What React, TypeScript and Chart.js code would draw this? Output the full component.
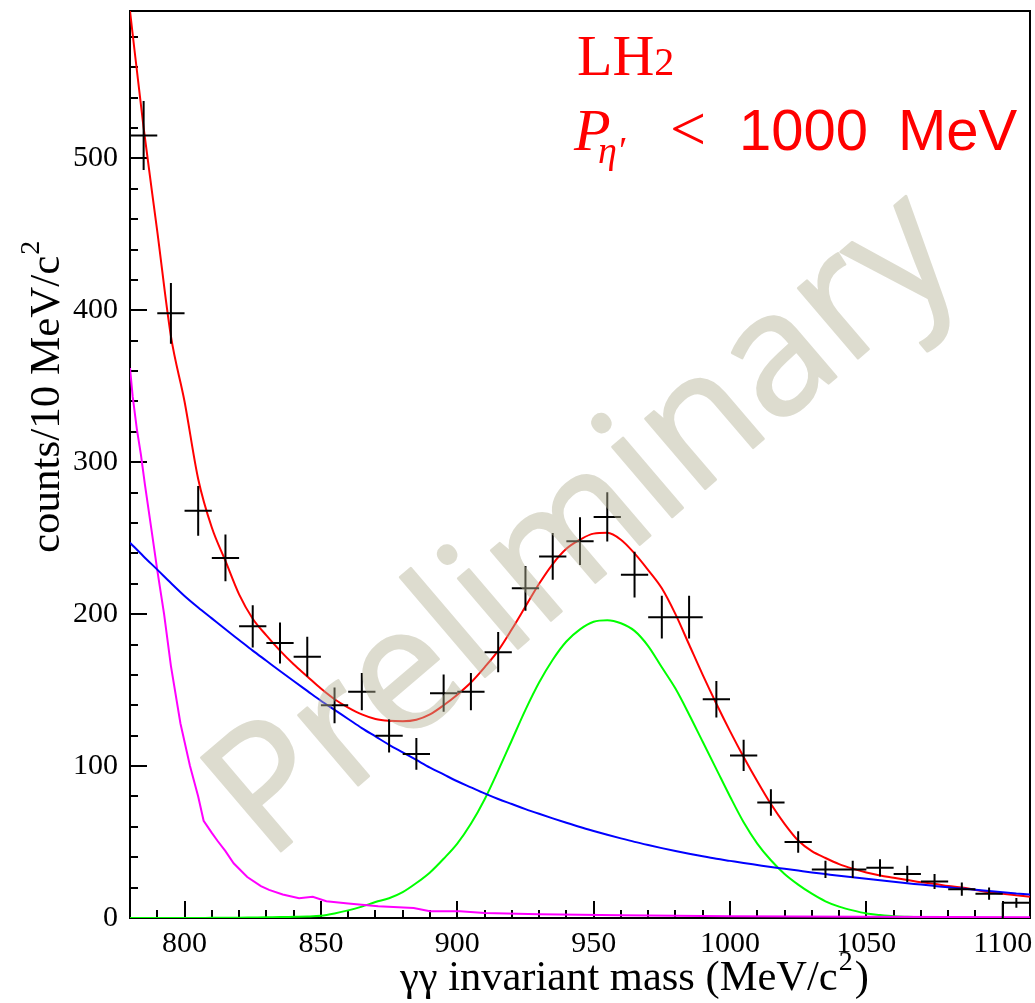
import React, { useEffect, useRef } from "react";
import { Chart, registerables } from "chart.js";

Chart.register(...registerables);

// ---- Data ----
const binCenters = [785, 795, 805, 815, 825, 835, 845, 855, 865, 875, 885, 895, 905, 915, 925, 935, 945, 955, 965, 975, 985, 995, 1005, 1015, 1025, 1035, 1045, 1055, 1065, 1075, 1085, 1095, 1105];
const counts = [515, 398, 268, 237, 192, 181, 172, 140, 149, 120, 108, 148, 149, 175, 217, 238, 248, 264, 226, 198, 198, 144, 107, 76, 50, 32, 32, 33, 29, 24, 19, 16, 10];
const countErrors = [22.7, 20, 16.4, 15.4, 13.9, 13.5, 13.1, 11.8, 12.2, 11, 10.4, 12.2, 12.2, 13.2, 14.7, 15.4, 15.7, 16.2, 15, 14.1, 14.1, 12, 10.3, 8.7, 7.1, 5.7, 5.7, 5.7, 5.4, 4.9, 4.4, 4, 3.2];
const binHalfWidth = 5;

const curveMass = [780, 785, 790, 795, 800, 805, 810, 815, 820, 825, 830, 835, 840, 845, 850, 855, 860, 865, 870, 875, 880, 885, 890, 895, 900, 905, 910, 915, 920, 925, 930, 935, 940, 945, 950, 955, 960, 965, 970, 975, 980, 985, 990, 995, 1000, 1005, 1010, 1015, 1020, 1025, 1030, 1035, 1040, 1045, 1050, 1055, 1060, 1065, 1070, 1075, 1080, 1085, 1090, 1095, 1100, 1105, 1110];
const totalFit = [597, 520, 452, 383, 340, 289, 257, 235, 213, 197, 186, 176, 167, 159, 151, 144, 138.5, 134, 131, 129.8, 129.5, 130.5, 134, 140, 147, 155, 165, 176, 190, 205, 220, 233, 243, 249, 253, 253.5, 249, 240, 229, 217, 200, 180, 160, 141, 123, 106, 90, 75, 62, 51, 44, 39.5, 35.5, 32.5, 30, 28, 26.5, 25, 23.5, 22.5, 21, 20, 18.5, 17, 16, 15, 14];
const signalFit = [0, 0, 0, 0, 0, 0.05, 0.1, 0.15, 0.2, 0.35, 0.5, 0.6, 0.8, 1, 1.5, 3, 5, 7.5, 10.5, 13, 17, 23, 30, 39, 49, 62, 78, 97, 117, 137, 155, 170, 182, 190, 195, 196, 194, 189, 179, 165, 151, 134, 116, 98, 80, 63, 49, 38, 29, 22, 16, 11, 7.5, 5, 3, 2, 1.2, 0.8, 0.5, 0.3, 0.2, 0.1, 0.1, 0, 0, 0, 0];
const backgroundFit = [247, 238, 229.3, 220.5, 212, 204.4, 197.2, 190, 183, 176, 169.3, 162.6, 156, 149.5, 143, 137, 131, 125, 119.5, 114, 109, 104, 99, 94.5, 90, 86, 82, 78.3, 75, 71.7, 68.6, 65.6, 62.7, 59.9, 57.3, 54.8, 52.4, 50.1, 48, 46, 44.1, 42.3, 40.6, 39, 37.6, 36.2, 34.9, 33.6, 32.4, 31.2, 30, 28.9, 27.8, 26.8, 25.8, 24.8, 23.8, 22.9, 22, 21.1, 20.2, 19.4, 18.6, 17.8, 17, 16.2, 15.4];

const otherBgMass = [780, 781, 782.5, 784, 785.5, 788, 790, 792.5, 795, 798.5, 802, 805, 807, 810, 812, 815, 818, 823, 828, 831, 836, 842, 847, 852, 860, 871, 884, 890, 901, 910, 930, 960, 1000, 1050, 1110];
const otherBgFit = [362, 343, 322, 305, 285, 254, 229, 200, 166, 128, 100, 80, 64, 56, 51, 44, 36, 27, 21, 18.5, 15.5, 13, 14, 11, 9.5, 7.7, 6.6, 4.5, 4.4, 3.3, 2.5, 1.8, 1.2, 0.8, 0.5];

const xTickLabels = [800, 850, 900, 950, 1000, 1050, 1100];
const yTickLabels = [0, 100, 200, 300, 400, 500];
const xRange = [780, 1110];
const yRange = [0, 597];

const xTitle = "γγ invariant mass (MeV/c";
const yTitle = "counts/10 MeV/c";
const watermark = "Preliminary";

const SERIF = '"Liberation Serif", "Times New Roman", serif';

const frameTicksPlugin = {
  id: "frameTicks",
  beforeDatasetsDraw(chart: any) {
    const { ctx, chartArea: a, scales } = chart;
    const x = scales.x;
    const y = scales.y;
    ctx.save();
    ctx.strokeStyle = "#000";
    ctx.lineWidth = 2;
    ctx.strokeRect(a.left, a.top, a.right - a.left, a.bottom - a.top);
    ctx.beginPath();
    x.ticks.forEach((t: any) => {
      if (t.value <= xRange[0] || t.value >= xRange[1]) return;
      const px = Math.round(x.getPixelForValue(t.value));
      const len = xTickLabels.includes(t.value) ? 17 : 8;
      ctx.moveTo(px, a.bottom);
      ctx.lineTo(px, a.bottom - len);
    });
    y.ticks.forEach((t: any) => {
      if (t.value <= yRange[0] || t.value >= yRange[1]) return;
      const py = Math.round(y.getPixelForValue(t.value));
      const len = yTickLabels.includes(t.value) ? 17 : 8;
      ctx.moveTo(a.left, py);
      ctx.lineTo(a.left + len, py);
    });
    ctx.stroke();
    ctx.restore();
  },
  afterDatasetsDraw(chart: any) {
    const { ctx, scales } = chart;
    const x = scales.x;
    const y = scales.y;
    ctx.save();
    ctx.strokeStyle = "#000";
    ctx.lineWidth = 2;
    ctx.beginPath();
    binCenters.forEach((m, i) => {
      const cx = x.getPixelForValue(m);
      const cy = y.getPixelForValue(counts[i]);
      const xl = x.getPixelForValue(m - binHalfWidth);
      const xr = x.getPixelForValue(m + binHalfWidth);
      const yt = y.getPixelForValue(counts[i] + countErrors[i]);
      const yb = y.getPixelForValue(counts[i] - countErrors[i]);
      ctx.moveTo(xl, cy);
      ctx.lineTo(xr, cy);
      ctx.moveTo(cx, yt);
      ctx.lineTo(cx, yb);
    });
    // histogram edge of the last bin
    const last = binCenters.length - 1;
    const ex = x.getPixelForValue(binCenters[last] - binHalfWidth);
    ctx.moveTo(ex, y.getPixelForValue(0));
    ctx.lineTo(ex, y.getPixelForValue(counts[last]));
    ctx.stroke();
    ctx.restore();
  },
  afterDraw(chart: any) {
    const { ctx, width, height } = chart;
    ctx.save();
    // axis titles
    ctx.fillStyle = "#000";
    ctx.textBaseline = "alphabetic";
    ctx.textAlign = "left";
    ctx.font = `42.5px ${SERIF}`;
    const xStart = 400;
    const xBase = 990;
    ctx.fillText(xTitle, xStart, xBase);
    let w = ctx.measureText(xTitle).width;
    ctx.font = `28px ${SERIF}`;
    ctx.fillText("2", xStart + w + 1, xBase - 20);
    const w2 = ctx.measureText("2").width;
    ctx.font = `42.5px ${SERIF}`;
    ctx.fillText(")", xStart + w + w2 + 3, xBase);

    ctx.save();
    ctx.translate(59, 553);
    ctx.rotate(-Math.PI / 2);
    ctx.font = `43px ${SERIF}`;
    ctx.fillText(yTitle, 0, 0);
    w = ctx.measureText(yTitle).width;
    ctx.font = `28px ${SERIF}`;
    ctx.fillText("2", w + 1, -20);
    ctx.restore();

    // annotation
    ctx.fillStyle = "#ff0000";
    ctx.font = `58px ${SERIF}`;
    ctx.fillText("LH", 577, 75);
    const lw = ctx.measureText("LH").width;
    ctx.font = `40px ${SERIF}`;
    ctx.fillText("2", 577 + lw, 75);
    ctx.font = `italic 60px ${SERIF}`;
    ctx.fillText("P", 574, 150);
    ctx.font = `italic 38px ${SERIF}`;
    ctx.fillText("η′", 598, 163);
    ctx.font = `64px ${SERIF}`;
    ctx.fillText("<", 670, 150);
    ctx.font = `58px "Liberation Sans", Arial, sans-serif`;
    ctx.fillText("1000", 739, 150);
    ctx.fillText("MeV", 898, 150);
    ctx.restore();

    // watermark (drawn opaque off-screen, then blended on top)
    const off = document.createElement("canvas");
    off.width = width;
    off.height = height;
    const o = off.getContext("2d");
    if (o) {
      o.translate(617, 564);
      o.rotate((-40.5 * Math.PI) / 180);
      o.font = `172px "Open Sans", "Noto Sans", sans-serif`;
      o.textAlign = "center";
      o.textBaseline = "alphabetic";
      o.fillStyle = "rgb(180, 178, 150)";
      o.strokeStyle = "rgb(180, 178, 150)";
      o.lineWidth = 2.5;
      o.lineJoin = "round";
      o.fillText(watermark, 0, 0);
      o.strokeText(watermark, 0, 0);
      ctx.save();
      ctx.globalAlpha = 0.45;
      ctx.drawImage(off, 0, 0);
      ctx.restore();
    }
  },
};

export default function App() {
  const ref = useRef<HTMLCanvasElement>(null);

  useEffect(() => {
    const canvas = ref.current;
    if (!canvas) return;
    const line = (xs: number[], ys: number[], color: string, order: number, smooth: boolean) => ({
      type: "line" as const,
      data: xs.map((m, i) => ({ x: m, y: ys[i] })),
      borderColor: color,
      backgroundColor: color,
      borderWidth: 2,
      pointRadius: 0,
      fill: false,
      tension: 0,
      cubicInterpolationMode: smooth ? ("monotone" as const) : ("default" as const),
      order,
    });
    const chart = new Chart(canvas, {
      type: "line",
      data: {
        datasets: [
          line(curveMass, backgroundFit, "#0000ff", 1, true),
          line(otherBgMass, otherBgFit, "#ff00ff", 2, false),
          line(curveMass, signalFit, "#00ff00", 3, true),
          line(curveMass, totalFit, "#ff0000", 4, true),
        ] as any,
      },
      options: {
        animation: false,
        responsive: false,
        devicePixelRatio: 1,
        layout: { padding: { left: 0, right: 5, top: 11, bottom: 0 } },
        plugins: { legend: { display: false }, tooltip: { enabled: false } },
        scales: {
          x: {
            type: "linear",
            min: xRange[0],
            max: xRange[1],
            grid: { display: false, drawTicks: false },
            border: { display: false },
            ticks: {
              stepSize: 10,
              includeBounds: false,
              autoSkip: false,
              maxRotation: 0,
              padding: 8,
              color: "#000",
              font: { family: "Liberation Serif", size: 30 },
              callback: (v: any) => (xTickLabels.includes(Number(v)) ? String(v) : ""),
            },
            afterFit: (s: any) => {
              s.height = 85;
              s.paddingLeft = 0;
              s.paddingRight = 0;
            },
          },
          y: {
            type: "linear",
            min: yRange[0],
            max: yRange[1],
            grid: { display: false, drawTicks: false },
            border: { display: false },
            ticks: {
              stepSize: 20,
              includeBounds: false,
              autoSkip: false,
              padding: 12,
              color: "#000",
              font: { family: "Liberation Serif", size: 30 },
              callback: (v: any) => (yTickLabels.includes(Number(v)) ? String(v) : ""),
            },
            afterFit: (s: any) => {
              s.width = 130;
              s.paddingTop = 0;
              s.paddingBottom = 0;
            },
          },
        },
      } as any,
      plugins: [frameTicksPlugin],
    });
    return () => chart.destroy();
  }, []);

  return (
    <div style={{ position: "absolute", left: 0, top: 0, width: 1035, height: 1003, background: "#fff" }}>
      <canvas ref={ref} width={1035} height={1003} style={{ display: "block", width: 1035, height: 1003 }} />
    </div>
  );
}
